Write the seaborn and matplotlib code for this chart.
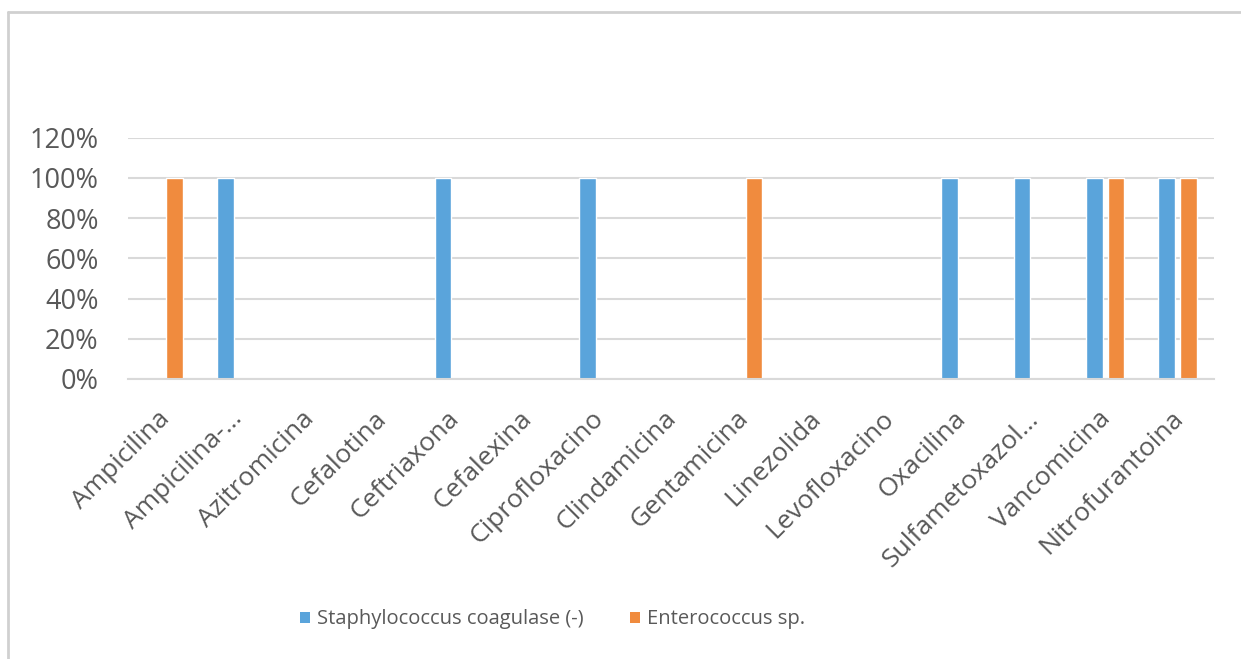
import matplotlib
matplotlib.use("Agg")
import matplotlib.pyplot as plt
from matplotlib.lines import Line2D
from matplotlib.patches import Patch
from matplotlib.ticker import PercentFormatter
from matplotlib.transforms import ScaledTranslation
import pandas as pd
import seaborn as sns

# Antibiotic resistance by organism
antibiotics = [
    "Ampicilina", "Ampicilina-…", "Azitromicina", "Cefalotina", "Ceftriaxona",
    "Cefalexina", "Ciprofloxacino", "Clindamicina", "Gentamicina", "Linezolida",
    "Levofloxacino", "Oxacilina", "Sulfametoxazol…", "Vancomicina", "Nitrofurantoina",
]
staph = [0, 1, 0, 0, 1, 0, 1, 0, 0, 0, 0, 1, 1, 1, 1]
entero = [1, 0, 0, 0, 0, 0, 0, 0, 1, 0, 0, 0, 0, 1, 1]
series_names = ["Staphylococcus coagulase (-)", "Enterococcus sp."]
series_colors = ["#5AA4DB", "#F08B3E"]
y_ticks = [0, 0.2, 0.4, 0.6, 0.8, 1.0, 1.2]

df = pd.DataFrame({
    "antibiotic": antibiotics * 2,
    "value": staph + entero,
    "organism": [series_names[0]] * len(antibiotics) + [series_names[1]] * len(antibiotics),
})

sns.set_theme(style="white")
plt.rcParams["font.family"] = ["Open Sans", "DejaVu Sans"]
text_color = "#595959"
grid_color = "#D9D9D9"

fig = plt.figure(figsize=(12.41, 6.59), dpi=100)
ax = fig.add_axes([0.103, 0.425, 0.875, 0.366])

sns.barplot(
    data=df, x="antibiotic", y="value", hue="organism",
    order=antibiotics, hue_order=series_names, palette=series_colors,
    width=0.594, gap=0.23, saturation=1, ax=ax, legend=False, errorbar=None,
)

ax.set_ylim(0, 1.2)
ax.set_xlim(-0.5, len(antibiotics) - 0.5)
ax.set_yticks(y_ticks)
ax.yaxis.set_major_formatter(PercentFormatter(1.0, decimals=0))
ax.yaxis.grid(True, color=grid_color, linewidth=1.5)
ax.set_axisbelow(True)
for side in ["top", "right", "left"]:
    ax.spines[side].set_visible(False)
ax.spines["bottom"].set_color(grid_color)
ax.spines["bottom"].set_linewidth(1.5)
ax.set_xlabel("")
ax.set_ylabel("")
ax.tick_params(axis="both", length=0, colors=text_color)
ax.tick_params(axis="y", labelsize=19.5, pad=21)
ax.tick_params(axis="x", labelsize=19, pad=16)
shift = ScaledTranslation(-7 / 100, -5 / 100, fig.dpi_scale_trans)
for lbl in ax.get_xticklabels():
    lbl.set_rotation(45)
    lbl.set_ha("right")
    lbl.set_rotation_mode("anchor")
    lbl.set_transform(lbl.get_transform() + shift)

handles = [Patch(facecolor=c, edgecolor="none") for c in series_colors]
leg = fig.legend(
    handles, series_names, loc="center", bbox_to_anchor=(0.445, 0.06), ncol=2,
    frameon=False, fontsize=14.5, handlelength=0.5, handleheight=0.5,
    handletextpad=0.35, columnspacing=2.3,
)
for t in leg.get_texts():
    t.set_color(text_color)

# chart frame
frame_color = "#D0D0D0"
fig.add_artist(Line2D([8 / 1241, 8 / 1241], [0, 1 - 12 / 659], transform=fig.transFigure,
                      color=frame_color, linewidth=2))
fig.add_artist(Line2D([8 / 1241, 1], [1 - 12 / 659, 1 - 12 / 659], transform=fig.transFigure,
                      color=frame_color, linewidth=2))

fig.savefig("out.png", dpi=100)
